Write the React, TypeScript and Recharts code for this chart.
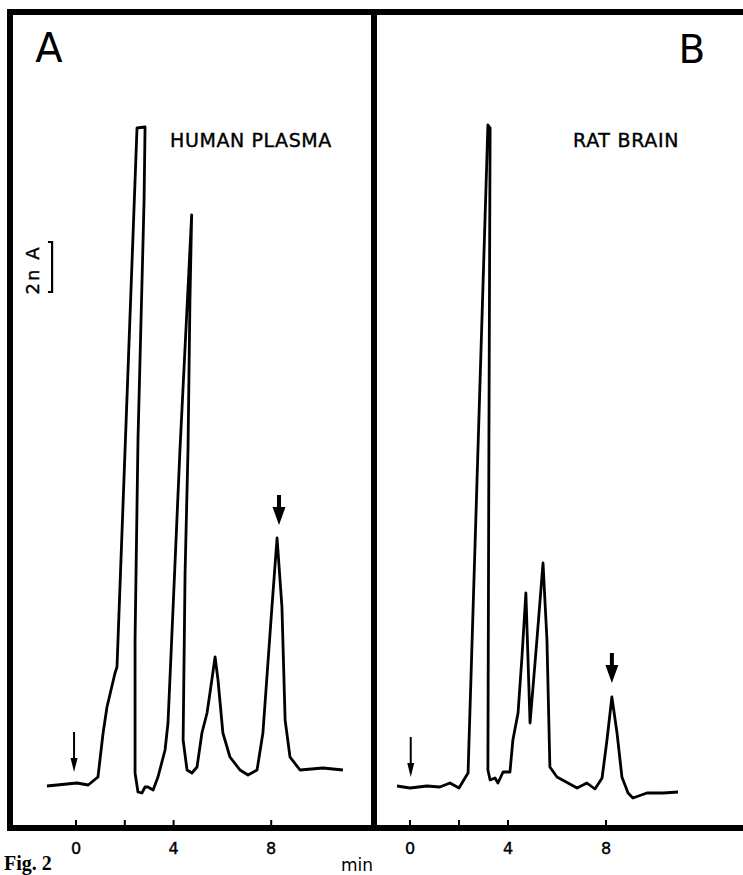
import { ComposedChart, Line, Scatter, XAxis, YAxis, ReferenceArea } from 'recharts';

// retention time (min) and detector current (nA above baseline)
const plasmaTime = [
  -1.19, 0.04, 0.5, 0.9, 1.11, 1.27, 1.6, 1.68, 2.5, 2.83, 2.79, 2.54, 2.42, 2.42, 2.54, 2.7, 2.83, 2.95,
  3.16, 3.36, 3.65, 3.77, 3.98, 4.26, 4.74, 4.67, 4.59, 4.47, 4.39, 4.55, 4.75, 4.96, 5.16, 5.37, 5.49,
  5.7, 5.82, 6.02, 6.31, 6.72, 7.05, 7.42, 7.66, 8.03, 8.24, 8.44, 8.57, 8.77, 9.18, 10.12, 10.94,
];
const plasmaSignal = [
  0, 0.12, 0.04, 0.36, 2.12, 3.16, 4.52, 4.76, 26.32, 26.36, 23.44, 13.84, 5.84, 0.52, -0.24, -0.28, -0.04,
  -0.04, -0.16, 0.36, 1.44, 2.52, 7.16, 13.44, 22.84, 19.44, 13.44, 8.52, 1.84, 0.64, 0.52, 0.76, 2.12,
  2.92, 3.72, 5.16, 4.24, 2.12, 1.16, 0.64, 0.44, 0.64, 2.12, 7.16, 9.92, 7.16, 2.64, 1.16, 0.64, 0.72, 0.64,
];
const brainTime = [
  -0.53, 0, 0.69, 1.22, 1.63, 2.0, 2.37, 3.18, 3.27, 3.22, 3.18, 3.27, 3.47, 3.59, 3.8, 4.08, 4.2, 4.41,
  4.57, 4.73, 4.9, 5.18, 5.43, 5.59, 5.71, 6.0, 6.82, 7.22, 7.55, 7.84, 8.04, 8.24, 8.45, 8.65, 8.9, 9.1,
  9.67, 10.33, 10.94,
];
const brainSignal = [
  0, -0.08, 0, -0.04, 0.12, -0.08, 0.52, 26.44, 26.32, 13.44, 0.64, 0.24, 0.32, 0.12, 0.56, 0.56, 1.84,
  2.92, 5.16, 7.72, 2.52, 5.84, 8.92, 5.84, 0.76, 0.36, -0.08, 0.12, -0.12, 0.32, 1.84, 3.56, 2.12, 0.36,
  -0.28, -0.48, -0.28, -0.28, -0.24,
];

// injection and compound markers (tip position)
const plasmaArrowTime = [-0.08, 8.32];
const plasmaArrowTip = [0.56, 10.44];
const brainArrowTime = [0.03, 8.24];
const brainArrowTip = [0.36, 4.12];
const arrowKind = ['thin', 'bold'];

// 2 nA calibration bar
const scaleBarTime = [-1.15, -0.98, -0.98, -1.15];
const scaleBarSignal = [21.76, 21.76, 19.76, 19.76];

const xTicks = [0, 2, 4, 8];
const tickLabels = ['0', '', '4', '8'];

const yDomain: [number, number] = [-1.68, 30.96];
const plasmaDomain: [number, number] = [-2.705, 12.213];
const brainDomain: [number, number] = [-1.469, 13.796];

const zip = (t: number[], v: number[]) => t.map((x, i) => ({ t: x, v: v[i] }));
const plasmaData = zip(plasmaTime, plasmaSignal);
const brainData = zip(brainTime, brainSignal);
const scaleBar = zip(scaleBarTime, scaleBarSignal);
const arrows = (t: number[], v: number[]) => t.map((x, i) => ({ t: x, v: v[i], kind: arrowKind[i] }));

const FONT = '"DejaVu Sans", sans-serif';

function Arrow(props: any) {
  const { cx, cy, payload } = props;
  if (payload.kind === 'bold') {
    return (
      <g>
        <rect x={cx - 2} y={cy - 30} width={4} height={14} fill="#000" />
        <path d={`M${cx - 6.5},${cy - 18} L${cx + 6.5},${cy - 18} L${cx},${cy} Z`} fill="#000" />
      </g>
    );
  }
  return (
    <g>
      <line x1={cx} x2={cx} y1={cy - 40} y2={cy - 10} stroke="#000" strokeWidth={2} />
      <path d={`M${cx - 3.5},${cy - 14} L${cx + 3.5},${cy - 14} L${cx},${cy} Z`} fill="#000" />
    </g>
  );
}

function Tick(props: any) {
  const { x, y, payload } = props;
  const label = tickLabels[xTicks.indexOf(payload.value)];
  return (
    <g>
      <line x1={x} x2={x} y1={y - 3} y2={y - 8} stroke="#000" strokeWidth={2} />
      {label ? (
        <text
          x={x}
          y={y + 26}
          textAnchor="middle"
          fontFamily={FONT}
          fontSize={16}
          fill="#000"
          stroke="#000"
          strokeWidth={0.4}
        >
          {label}
        </text>
      ) : null}
    </g>
  );
}

function Panel({
  data,
  domain,
  marks,
  left,
  marginLeft,
  withBar,
}: {
  data: { t: number; v: number }[];
  domain: [number, number];
  marks: { t: number; v: number; kind: string }[];
  left: number;
  marginLeft: number;
  withBar?: boolean;
}) {
  return (
    <div style={{ position: 'absolute', left, top: 0 }}>
      <ComposedChart width={380} height={875} margin={{ top: 12, right: 6, bottom: 7, left: marginLeft }}>
        <XAxis
          type="number"
          dataKey="t"
          domain={domain}
          allowDataOverflow
          ticks={xTicks}
          interval={0}
          height={40}
          axisLine={false}
          tickLine={false}
          tickSize={0}
          tickMargin={0}
          tick={<Tick />}
        />
        <YAxis type="number" dataKey="v" domain={yDomain} allowDataOverflow hide />
        <ReferenceArea
          x1={domain[0]}
          x2={domain[1]}
          y1={yDomain[0]}
          y2={yDomain[1]}
          fill="none"
          stroke="#000"
          strokeWidth={6}
          ifOverflow="visible"
        />
        <Line
          data={data}
          dataKey="v"
          type="linear"
          stroke="#000"
          strokeWidth={2.8}
          strokeLinejoin="round"
          dot={false}
          activeDot={false}
          isAnimationActive={false}
        />
        {withBar ? (
          <Line
            data={scaleBar}
            dataKey="v"
            type="linear"
            stroke="#000"
            strokeWidth={2.2}
            dot={false}
            activeDot={false}
            isAnimationActive={false}
          />
        ) : null}
        <Scatter data={marks} dataKey="v" shape={<Arrow />} isAnimationActive={false} />
      </ComposedChart>
    </div>
  );
}

export default function App() {
  return (
    <div
      style={{
        position: 'absolute',
        left: 0,
        top: 0,
        width: 743,
        height: 875,
        overflow: 'hidden',
        background: '#fff',
      }}
    >
      <Panel
        data={plasmaData}
        domain={plasmaDomain}
        marks={arrows(plasmaArrowTime, plasmaArrowTip)}
        left={0}
        marginLeft={10}
        withBar
      />
      <Panel
        data={brainData}
        domain={brainDomain}
        marks={arrows(brainArrowTime, brainArrowTip)}
        left={374}
        marginLeft={0}
      />
      <svg
        width={743}
        height={875}
        style={{ position: 'absolute', left: 0, top: 0, pointerEvents: 'none' }}
      >
        <text x={49} y={62} textAnchor="middle" fontFamily={FONT} fontSize={40} fill="#000">
          A
        </text>
        <text x={692} y={63} textAnchor="middle" fontFamily={FONT} fontSize={39} fill="#000">
          B
        </text>
        <text
          x={170}
          y={147}
          fontFamily={FONT}
          fontSize={19}
          letterSpacing={0.6}
          fill="#000"
          stroke="#000"
          strokeWidth={0.4}
        >
          HUMAN PLASMA
        </text>
        <text
          x={573}
          y={147}
          fontFamily={FONT}
          fontSize={19}
          letterSpacing={0.7}
          fill="#000"
          stroke="#000"
          strokeWidth={0.4}
        >
          RAT BRAIN
        </text>
        <text
          x={39}
          y={270}
          transform="rotate(-90 39 270)"
          textAnchor="middle"
          fontFamily={FONT}
          fontSize={18}
          letterSpacing={2}
          fill="#000"
          stroke="#000"
          strokeWidth={0.4}
        >
          2n A
        </text>
        <text x={341} y={871} fontFamily={FONT} fontSize={17} fill="#000">
          min
        </text>
        <text
          x={4}
          y={870}
          fontFamily='"Liberation Serif", serif'
          fontWeight="bold"
          fontSize={20}
          fill="#000"
        >
          Fig. 2
        </text>
      </svg>
    </div>
  );
}
